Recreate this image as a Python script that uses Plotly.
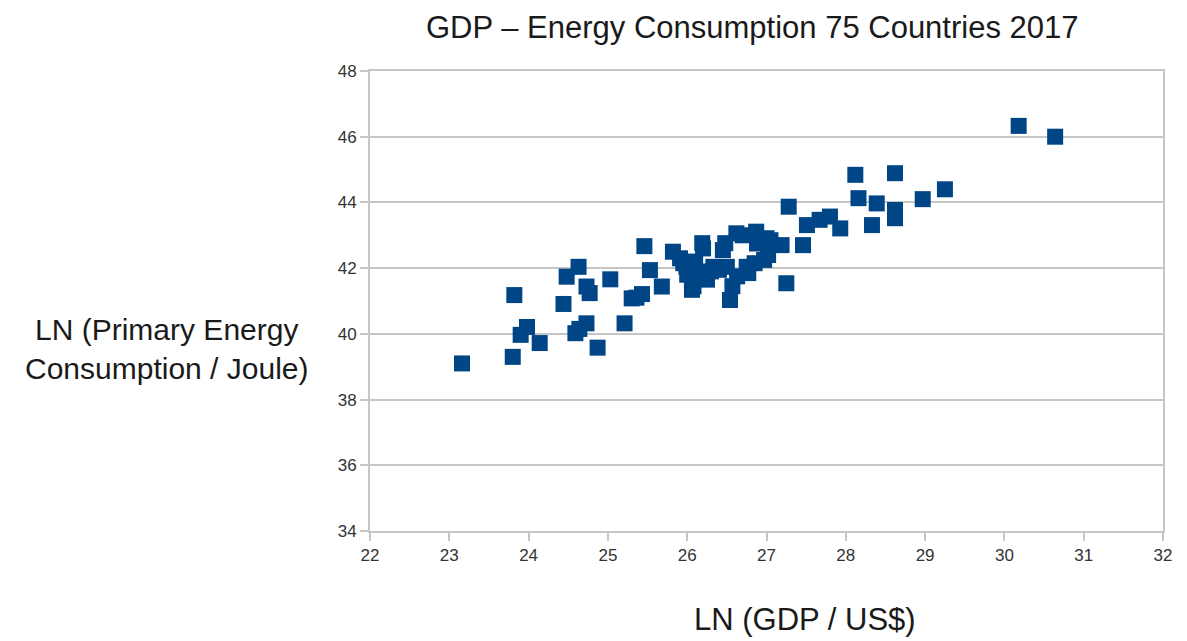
import plotly.graph_objects as go

TITLE = "GDP – Energy Consumption 75 Countries 2017"
X_TITLE = "LN (GDP / US$)"
Y_TITLE = "LN (Primary Energy<br>Consumption / Joule)"

# ln(GDP / US$) per country
ln_gdp = [
    30.18, 30.64, 29.25, 28.97, 28.62, 28.62, 28.62, 28.39, 28.33, 28.16,
    28.12, 27.93, 27.80, 27.67, 27.51, 27.46, 27.28, 27.25, 27.19, 27.02,
    27.00, 26.87, 26.62, 26.48, 26.19, 25.82, 25.91, 25.99, 26.06, 26.06,
    26.16, 26.33, 26.50, 26.54, 26.75, 26.77, 26.57, 26.40, 26.25, 26.10,
    26.00, 26.97, 26.70, 25.46, 25.53, 25.68, 25.43, 25.30, 25.21, 25.03,
    24.87, 24.73, 24.59, 24.64, 24.77, 24.73, 24.44, 24.48, 24.63, 24.14,
    23.98, 23.90, 23.80, 23.82, 23.16, 25.36, 26.45, 26.88, 26.30, 25.95,
    26.63, 27.05, 26.20, 26.85, 26.08,
]
# ln(primary energy consumption / J) per country
ln_energy = [
    46.33, 46.00, 44.40, 44.10, 44.89, 43.77, 43.52, 43.97, 43.31, 44.13,
    44.84, 43.21, 43.57, 43.47, 43.31, 42.70, 43.87, 41.54, 42.70, 42.40,
    42.91, 43.11, 43.06, 42.76, 42.76, 42.50, 42.30, 42.04, 41.59, 41.34,
    41.79, 42.04, 42.04, 41.03, 42.04, 41.85, 41.45, 41.95, 41.65, 42.20,
    41.80, 42.25, 43.00, 42.67, 41.94, 41.44, 41.21, 41.08, 40.32, 41.66,
    39.58, 40.32, 40.02, 40.15, 41.24, 41.44, 40.91, 41.74, 42.04, 39.72,
    40.21, 39.97, 39.30, 41.18, 39.10, 41.10, 42.55, 42.75, 41.90, 42.15,
    41.75, 42.85, 42.60, 42.15, 41.45,
]

FONT = "Liberation Sans, Arial, sans-serif"
GRID = "#c6c6c6"
TEXT = "#1a1a1a"

fig = go.Figure()
fig.add_trace(go.Scatter(
    x=ln_gdp,
    y=ln_energy,
    mode="markers",
    marker=dict(symbol="square", size=16, color="#004586", line_width=0),
    showlegend=False,
))

axis_style = dict(
    zeroline=False,
    showline=True,
    linecolor=GRID,
    linewidth=2,
    mirror=True,
    ticks="outside",
    ticklen=8,
    tickwidth=1.5,
    tickcolor=GRID,
    tickfont=dict(family=FONT, size=17, color="#333"),
)
fig.update_xaxes(range=[22, 32], dtick=1, showgrid=False, **axis_style)
fig.update_yaxes(range=[34, 48], dtick=2, showgrid=True,
                 gridcolor=GRID, gridwidth=1.5, **axis_style)

fig.add_annotation(
    text=Y_TITLE, xref="paper", yref="paper", x=-0.257, y=0.396,
    xanchor="center", yanchor="middle", showarrow=False, align="center",
    font=dict(family=FONT, size=30, color=TEXT),
)
fig.add_annotation(
    text=X_TITLE, xref="paper", yref="paper", x=0.549, y=-0.193,
    xanchor="center", yanchor="middle", showarrow=False,
    font=dict(family=FONT, size=31, color=TEXT),
)

fig.update_layout(
    title=dict(text=TITLE, x=0.627, xanchor="center", y=0.97, yanchor="middle",
               font=dict(family=FONT, size=31, color=TEXT)),
    width=1187,
    height=641,
    margin=dict(l=362, r=32, t=63, b=118),
    plot_bgcolor="white",
    paper_bgcolor="white",
)

fig.write_html("out.html")
